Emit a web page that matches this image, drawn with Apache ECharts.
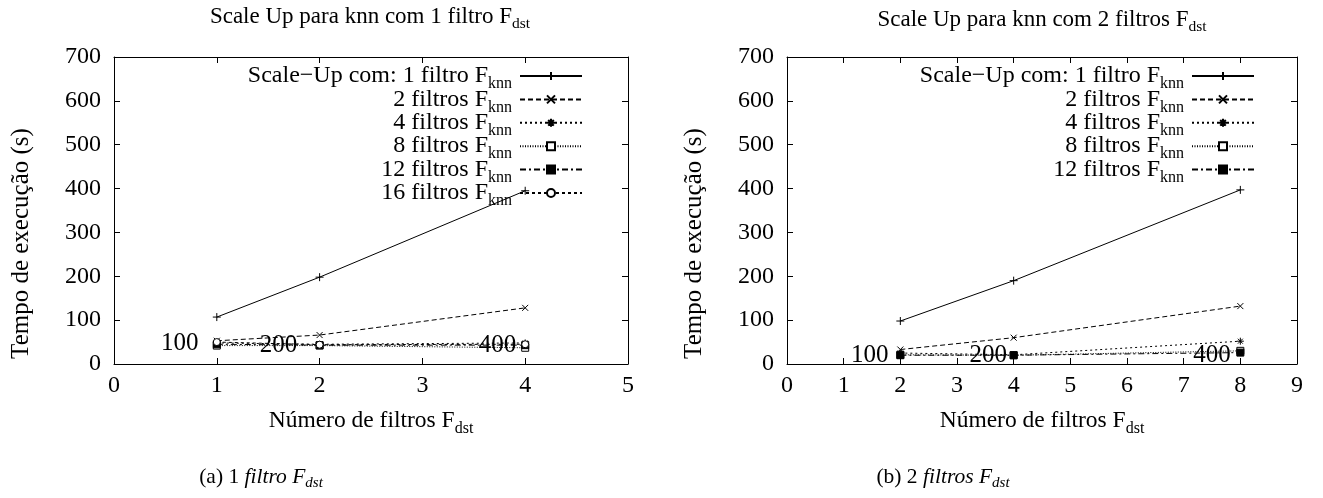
<!DOCTYPE html>
<html><head><meta charset="utf-8">
<script src="https://cdn.jsdelivr.net/npm/echarts@6/dist/echarts.min.js"></script>
<style>html,body{margin:0;padding:0;background:#fff}#c{width:1323px;height:498px}</style>
</head><body><div id="c"></div>
<script>
// ---- data ----
const xLeft = [1, 2, 4];
const xRight = [2, 4, 8];
const legendLeft = ['Scale−Up com: 1 filtro', '2 filtros', '4 filtros', '8 filtros', '12 filtros', '16 filtros'];
const legendRight = ['Scale−Up com: 1 filtro', '2 filtros', '4 filtros', '8 filtros', '12 filtros'];
const left1 = [107, 198, 395];
const left2 = [53, 66, 128];
const left4 = [48, 45, 48];
const left8 = [42, 42, 37];
const left12 = [45, 43, 43];
const left16 = [50, 44, 45];
const right1 = [98, 190, 397];
const right2 = [33, 60, 132];
const right4 = [25, 21, 52];
const right8 = [21, 20, 30];
const right12 = [20, 20, 26];
const sizeLabels = ['100', '200', '400'];
const sizeLabelXLeft = [0.64, 1.6, 3.73];
const sizeLabelYLeft = [47, 43, 43];
const sizeLabelXRight = [1.46, 3.55, 7.5];
const sizeLabelYRight = [19, 19, 19];
const yTicks = [0, 700, 100];

// ---- styles ----
const FONT = 'Liberation Serif';
const symPlus = 'path://M0,5L10,5M5,0L5,10';
const symX = 'path://M0,0L10,10M10,0L0,10';
const symStar = 'path://M0,5L10,5M5,0L5,10M1.5,1.5L8.5,8.5M8.5,1.5L1.5,8.5';
const styles = [
  {symbol: symPlus, size: 8, fill: 'transparent', dash: 'solid'},
  {symbol: symX, size: 6, fill: 'transparent', dash: [5, 3]},
  {symbol: symStar, size: 7, fill: 'transparent', dash: [2, 3]},
  {symbol: 'rect', size: 7, fill: '#fff', dash: [1, 1.5]},
  {symbol: 'rect', size: 7, fill: '#000', dash: [6, 3, 2, 3]},
  {symbol: 'circle', size: 7, fill: '#fff', dash: [3, 3]}
];

function zip(xs, ys) { return xs.map((x, i) => [x, ys[i]]); }

const leftSets = [left1, left2, left4, left8, left12, left16];
const rightSets = [right1, right2, right4, right8, right12];

const series = [];
const legMap = {};
leftSets.forEach((ys, i) => {
  const st = styles[i];
  const name = 'L' + i;
  legMap[name] = '{a|' + legendLeft[i] + ' F}{s|knn}';
  series.push({
    name, type: 'line', xAxisIndex: 0, yAxisIndex: 0, data: zip(xLeft, ys),
    symbol: st.symbol, symbolSize: st.size, showAllSymbol: true,
    lineStyle: {color: '#000', width: 1, type: st.dash},
    itemStyle: {color: st.fill, borderColor: '#000', borderWidth: 1},
    emphasis: {disabled: true}, animation: false, z: 3
  });
});
rightSets.forEach((ys, i) => {
  const st = styles[i];
  const name = 'R' + i;
  legMap[name] = '{a|' + legendRight[i] + ' F}{s|knn}';
  series.push({
    name, type: 'line', xAxisIndex: 2, yAxisIndex: 2, data: zip(xRight, ys),
    symbol: st.symbol, symbolSize: st.size, showAllSymbol: true,
    lineStyle: {color: '#000', width: 1, type: st.dash},
    itemStyle: {color: st.fill, borderColor: '#000', borderWidth: 1},
    emphasis: {disabled: true}, animation: false, z: 3
  });
});
function labelSeries(xa, ya, xs, ys) {
  return {
    type: 'scatter', xAxisIndex: xa, yAxisIndex: ya, silent: true, z: 10,
    symbolSize: 0, itemStyle: {color: '#000', opacity: 1},
    data: xs.map((x, i) => ({value: [x, ys[i]], name: sizeLabels[i]})),
    label: {show: true, position: 'inside', formatter: p => p.name, opacity: 1,
      fontFamily: FONT, fontSize: 25, color: '#000', textBorderWidth: 0},
    animation: false
  };
}
series.push(labelSeries(0, 0, sizeLabelXLeft, sizeLabelYLeft));
series.push(labelSeries(2, 2, sizeLabelXRight, sizeLabelYRight));

const rich = {
  a: {fontFamily: FONT, fontSize: 24, color: '#000', lineHeight: 24, verticalAlign: 'top'},
  s: {fontFamily: FONT, fontSize: 16, color: '#000', lineHeight: 16, verticalAlign: 'top', padding: [12, 3, 0, 0]}
};
const nameRich = {
  a: {fontFamily: FONT, fontSize: 23.5, color: '#000', lineHeight: 24, verticalAlign: 'top'},
  s: {fontFamily: FONT, fontSize: 16, color: '#000', lineHeight: 16, verticalAlign: 'top', padding: [12, 0, 0, 0]}
};

function xAxisPair(gi, max) {
  const common = {gridIndex: gi, type: 'value', min: 0, max: max, interval: 1,
    axisLine: {show: true, onZero: false, lineStyle: {color: '#000', width: 1}},
    axisTick: {show: true, inside: true, length: 6, lineStyle: {color: '#000'}},
    splitLine: {show: false}};
  return [
    Object.assign({}, common, {position: 'bottom',
      axisLabel: {color: '#000', fontFamily: FONT, fontSize: 24, margin: 10},
      name: '{a|Número de filtros F}{s|dst}', nameLocation: 'middle', nameGap: 45,
      nameTextStyle: {rich: nameRich}}),
    Object.assign({}, common, {position: 'top', axisLabel: {show: false}})
  ];
}
function yAxisPair(gi) {
  const common = {gridIndex: gi, type: 'value', min: yTicks[0], max: yTicks[1], interval: yTicks[2],
    axisLine: {show: true, onZero: false, lineStyle: {color: '#000', width: 1}},
    axisTick: {show: true, inside: true, length: 6, lineStyle: {color: '#000'}},
    splitLine: {show: false}};
  return [
    Object.assign({}, common, {position: 'left',
      axisLabel: {color: '#000', fontFamily: FONT, fontSize: 24, margin: 13},
      name: 'Tempo de execução (s)', nameLocation: 'middle', nameGap: 80, nameRotate: 90,
      nameTextStyle: {fontFamily: FONT, fontSize: 25, color: '#000', padding: [0, 66, 0, 0]}}),
    Object.assign({}, common, {position: 'right', axisLabel: {show: false}})
  ];
}

const titleRich = {
  a: {fontFamily: FONT, fontSize: 23, fill: '#000', lineHeight: 23, verticalAlign: 'top'},
  s: {fontFamily: FONT, fontSize: 15.5, fill: '#000', lineHeight: 15.5, verticalAlign: 'top', padding: [11, 0, 0, 0]}
};
const capRich = {
  n: {fontFamily: FONT, fontSize: 21.5, fill: '#000', lineHeight: 22, verticalAlign: 'top'},
  i: {fontFamily: FONT, fontSize: 21.5, fontStyle: 'italic', fill: '#000', lineHeight: 22, verticalAlign: 'top'},
  s: {fontFamily: FONT, fontSize: 15, fontStyle: 'italic', fill: '#000', lineHeight: 15, verticalAlign: 'top', padding: [10, 0, 0, 0]}
};

const option = {
  backgroundColor: '#fff',
  animation: false,
  grid: [
    {left: 114, top: 57, width: 514, height: 307},
    {left: 787, top: 57, width: 510, height: 307}
  ],
  xAxis: [...xAxisPair(0, 5), ...xAxisPair(1, 9)],
  yAxis: [...yAxisPair(0), ...yAxisPair(1)],
  legend: [
    {data: ['L0', 'L1', 'L2', 'L3', 'L4', 'L5'], orient: 'vertical', align: 'right',
      right: 735, top: 59, itemWidth: 62, itemHeight: 10, itemGap: -4.6,
      selectedMode: false, formatter: n => legMap[n], textStyle: {rich: rich}},
    {data: ['R0', 'R1', 'R2', 'R3', 'R4'], orient: 'vertical', align: 'right',
      right: 63, top: 59, itemWidth: 62, itemHeight: 10, itemGap: -4.6,
      selectedMode: false, formatter: n => legMap[n], textStyle: {rich: rich}}
  ],
  graphic: [
    {type: 'text', x: 370, y: 5, silent: true,
      style: {text: '{a|Scale Up para knn com 1 filtro F}{s|dst}', align: 'center', rich: titleRich}},
    {type: 'text', x: 1042, y: 8, silent: true,
      style: {text: '{a|Scale Up para knn com 2 filtros F}{s|dst}', align: 'center', rich: titleRich}},
    {type: 'text', x: 261, y: 466, silent: true,
      style: {text: '{n|(a) 1 }{i|filtro F}{s|dst}', align: 'center', rich: capRich}},
    {type: 'text', x: 943, y: 466, silent: true,
      style: {text: '{n|(b) 2 }{i|filtros F}{s|dst}', align: 'center', rich: capRich}}
  ],
  series: series
};
const chart = echarts.init(document.getElementById('c'), null, {renderer: 'canvas'});
chart.setOption(option);
</script></body></html>
